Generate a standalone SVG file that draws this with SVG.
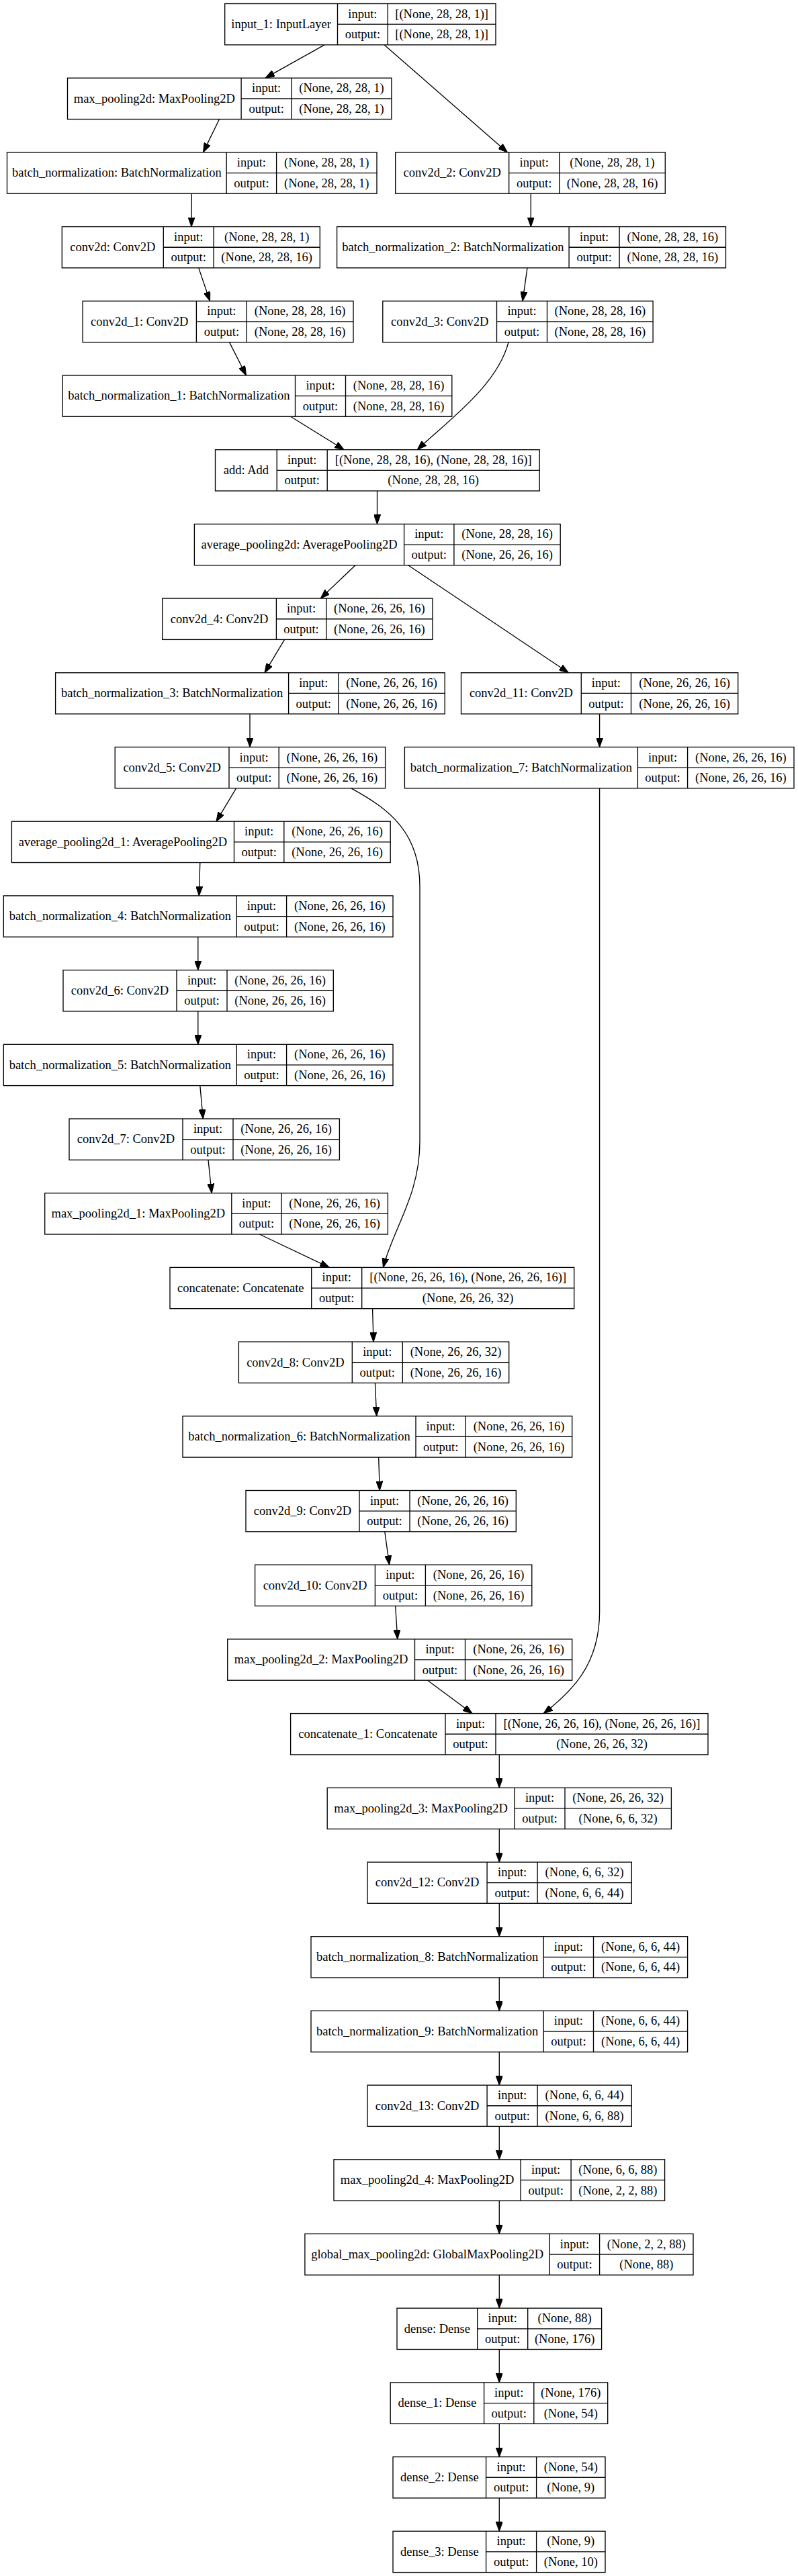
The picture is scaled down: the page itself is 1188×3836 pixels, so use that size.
<svg xmlns="http://www.w3.org/2000/svg" width="1188" height="3836" viewBox="0 0 1188 3836">
<style>
.node rect{fill:#fff;stroke:#000;stroke-width:1.33}
.node path{fill:none;stroke:#000;stroke-width:1.33}
.node text{font-family:"Liberation Serif","Times New Roman",serif;font-size:18.5px;text-anchor:middle;fill:#000}
#edges path{fill:none;stroke:#000;stroke-width:1.33;marker-end:url(#arrow)}
</style>
<defs>
<marker id="arrow" markerUnits="userSpaceOnUse" markerWidth="14" markerHeight="10" viewBox="0 0 13 9.4" refX="13" refY="4.7" orient="auto"><path d="M0,0 L13,4.7 L0,9.4 z" fill="#000" stroke="#000" stroke-width="1"/></marker>
</defs>
<rect x="0" y="0" width="1188" height="3836" fill="#fff"/>
<g id="edges">
<path d="M483,66.8 L395,116.2"/>
<path d="M572,66.8 L755.5,226.9"/>
<path d="M326.5,177.5 L302.5,226.9"/>
<path d="M285.3,288.2 L285,337.6"/>
<path d="M790.3,288.2 L790.3,337.6"/>
<path d="M295.7,398.9 L312.5,448.3"/>
<path d="M785,398.9 L778,448.3"/>
<path d="M341.5,509.6 L366.5,559"/>
<path d="M757,509.6 C740,575 665,628 621.3,669.7"/>
<path d="M432.6,620.3 L512.2,669.7"/>
<path d="M561.5,731 L561.5,780.4"/>
<path d="M529,841.7 L477.3,891.1"/>
<path d="M607.7,841.7 L846.4,1001.8"/>
<path d="M423.6,952.4 L394,1001.8"/>
<path d="M372,1063.1 L372,1112.5"/>
<path d="M892.6,1063.1 L892.6,1112.5"/>
<path d="M351.6,1173.8 L322,1223.2"/>
<path d="M297.8,1284.5 L296.3,1333.9"/>
<path d="M294.8,1395.2 L294.8,1444.6"/>
<path d="M294.8,1505.9 L294.8,1555.3"/>
<path d="M297.8,1616.6 L302.3,1666"/>
<path d="M310,1727.3 L315.2,1776.7"/>
<path d="M386.4,1838 L490.2,1887.4"/>
<path d="M522.8,1173.8 C580,1205 625,1240 625,1320 L625,1700 C625,1780 585,1830 570.5,1887.4"/>
<path d="M554.6,1948.7 L556,1998.1"/>
<path d="M558.4,2059.4 L560.7,2108.8"/>
<path d="M563.7,2170.1 L565.2,2219.5"/>
<path d="M572.8,2280.8 L579.6,2330.2"/>
<path d="M588.7,2391.5 L591.8,2440.9"/>
<path d="M636.5,2502.2 L703,2551.6"/>
<path d="M892.6,1173.8 L892.6,2400 C892.6,2480 850,2520 809.2,2551.6"/>
<path d="M743.3,2612.9 L743.3,2662.3"/>
<path d="M743.3,2723.6 L743.3,2773"/>
<path d="M743.3,2834.3 L743.3,2883.7"/>
<path d="M743.3,2945 L743.3,2994.4"/>
<path d="M743.3,3055.7 L743.3,3105.1"/>
<path d="M743.3,3166.4 L743.3,3215.8"/>
<path d="M743.3,3277.1 L743.3,3326.5"/>
<path d="M743.3,3387.8 L743.3,3437.2"/>
<path d="M743.3,3498.5 L743.3,3547.9"/>
<path d="M743.3,3609.2 L743.3,3658.6"/>
<path d="M743.3,3719.9 L743.3,3769.3"/>
</g>

<g id="input_1" class="node" transform="translate(0,5.5)"><rect x="334.7" y="0" width="403.3" height="61.3"/><path d="M502.5,0V61.3M577.3,0V61.3M502.5,30.65H738"/><text x="418.6" y="36.45">input_1: InputLayer</text><text x="539.9" y="21.1">input:</text><text x="539.9" y="51.8">output:</text><text x="657.65" y="21.1">[(None, 28, 28, 1)]</text><text x="657.65" y="51.8">[(None, 28, 28, 1)]</text></g>

<g id="max_pooling2d" class="node" transform="translate(0,116.2)"><rect x="100.5" y="0" width="482.4" height="61.3"/><path d="M359.1,0V61.3M434.2,0V61.3M359.1,30.65H582.9"/><text x="229.8" y="36.45">max_pooling2d: MaxPooling2D</text><text x="396.65" y="21.1">input:</text><text x="396.65" y="51.8">output:</text><text x="508.55" y="21.1">(None, 28, 28, 1)</text><text x="508.55" y="51.8">(None, 28, 28, 1)</text></g>

<g id="batch_normalization" class="node" transform="translate(0,226.9)"><rect x="10.5" y="0" width="550.5" height="61.3"/><path d="M337.2,0V61.3M411.6,0V61.3M337.2,30.65H561"/><text x="173.85" y="36.45">batch_normalization: BatchNormalization</text><text x="374.4" y="21.1">input:</text><text x="374.4" y="51.8">output:</text><text x="486.3" y="21.1">(None, 28, 28, 1)</text><text x="486.3" y="51.8">(None, 28, 28, 1)</text></g>

<g id="conv2d_2" class="node" transform="translate(0,226.9)"><rect x="588.7" y="0" width="401.6" height="61.3"/><path d="M757.7,0V61.3M832.7,0V61.3M757.7,30.65H990.3"/><text x="673.2" y="36.45">conv2d_2: Conv2D</text><text x="795.2" y="21.1">input:</text><text x="795.2" y="51.8">output:</text><text x="911.5" y="21.1">(None, 28, 28, 1)</text><text x="911.5" y="51.8">(None, 28, 28, 16)</text></g>

<g id="conv2d" class="node" transform="translate(0,337.6)"><rect x="92.3" y="0" width="384" height="61.3"/><path d="M243.3,0V61.3M318.1,0V61.3M243.3,30.65H476.3"/><text x="167.8" y="36.45">conv2d: Conv2D</text><text x="280.7" y="21.1">input:</text><text x="280.7" y="51.8">output:</text><text x="397.2" y="21.1">(None, 28, 28, 1)</text><text x="397.2" y="51.8">(None, 28, 28, 16)</text></g>

<g id="batch_normalization_2" class="node" transform="translate(0,337.6)"><rect x="501.6" y="0" width="578.9" height="61.3"/><path d="M847.1,0V61.3M922.1,0V61.3M847.1,30.65H1080.5"/><text x="674.35" y="36.45">batch_normalization_2: BatchNormalization</text><text x="884.6" y="21.1">input:</text><text x="884.6" y="51.8">output:</text><text x="1001.3" y="21.1">(None, 28, 28, 16)</text><text x="1001.3" y="51.8">(None, 28, 28, 16)</text></g>

<g id="conv2d_1" class="node" transform="translate(0,448.3)"><rect x="123.1" y="0" width="402.9" height="61.3"/><path d="M292.4,0V61.3M367.3,0V61.3M292.4,30.65H526"/><text x="207.75" y="36.45">conv2d_1: Conv2D</text><text x="329.85" y="21.1">input:</text><text x="329.85" y="51.8">output:</text><text x="446.65" y="21.1">(None, 28, 28, 16)</text><text x="446.65" y="51.8">(None, 28, 28, 16)</text></g>

<g id="conv2d_3" class="node" transform="translate(0,448.3)"><rect x="569.8" y="0" width="402.3" height="61.3"/><path d="M739.5,0V61.3M814.5,0V61.3M739.5,30.65H972.1"/><text x="654.65" y="36.45">conv2d_3: Conv2D</text><text x="777" y="21.1">input:</text><text x="777" y="51.8">output:</text><text x="893.3" y="21.1">(None, 28, 28, 16)</text><text x="893.3" y="51.8">(None, 28, 28, 16)</text></g>

<g id="batch_normalization_1" class="node" transform="translate(0,559)"><rect x="93.2" y="0" width="579.6" height="61.3"/><path d="M439.5,0V61.3M514.5,0V61.3M439.5,30.65H672.8"/><text x="266.35" y="36.45">batch_normalization_1: BatchNormalization</text><text x="477" y="21.1">input:</text><text x="477" y="51.8">output:</text><text x="593.65" y="21.1">(None, 28, 28, 16)</text><text x="593.65" y="51.8">(None, 28, 28, 16)</text></g>

<g id="add" class="node" transform="translate(0,669.7)"><rect x="320.5" y="0" width="482.7" height="61.3"/><path d="M412.2,0V61.3M487.2,0V61.3M412.2,30.65H803.2"/><text x="366.35" y="36.45">add: Add</text><text x="449.7" y="21.1">input:</text><text x="449.7" y="51.8">output:</text><text x="645.2" y="21.1">[(None, 28, 28, 16), (None, 28, 28, 16)]</text><text x="645.2" y="51.8">(None, 28, 28, 16)</text></g>

<g id="average_pooling2d" class="node" transform="translate(0,780.4)"><rect x="289.4" y="0" width="544.8" height="61.3"/><path d="M601.6,0V61.3M675.9,0V61.3M601.6,30.65H834.2"/><text x="445.5" y="36.45">average_pooling2d: AveragePooling2D</text><text x="638.75" y="21.1">input:</text><text x="638.75" y="51.8">output:</text><text x="755.05" y="21.1">(None, 28, 28, 16)</text><text x="755.05" y="51.8">(None, 26, 26, 16)</text></g>

<g id="conv2d_4" class="node" transform="translate(0,891.1)"><rect x="241.7" y="0" width="402.3" height="61.3"/><path d="M411.4,0V61.3M485.7,0V61.3M411.4,30.65H644"/><text x="326.55" y="36.45">conv2d_4: Conv2D</text><text x="448.55" y="21.1">input:</text><text x="448.55" y="51.8">output:</text><text x="564.85" y="21.1">(None, 26, 26, 16)</text><text x="564.85" y="51.8">(None, 26, 26, 16)</text></g>

<g id="batch_normalization_3" class="node" transform="translate(0,1001.8)"><rect x="82.6" y="0" width="579.6" height="61.3"/><path d="M429.6,0V61.3M503.9,0V61.3M429.6,30.65H662.2"/><text x="256.1" y="36.45">batch_normalization_3: BatchNormalization</text><text x="466.75" y="21.1">input:</text><text x="466.75" y="51.8">output:</text><text x="583.05" y="21.1">(None, 26, 26, 16)</text><text x="583.05" y="51.8">(None, 26, 26, 16)</text></g>

<g id="conv2d_11" class="node" transform="translate(0,1001.8)"><rect x="686.5" y="0" width="412.2" height="61.3"/><path d="M865.3,0V61.3M939.5,0V61.3M865.3,30.65H1098.7"/><text x="775.9" y="36.45">conv2d_11: Conv2D</text><text x="902.4" y="21.1">input:</text><text x="902.4" y="51.8">output:</text><text x="1019.1" y="21.1">(None, 26, 26, 16)</text><text x="1019.1" y="51.8">(None, 26, 26, 16)</text></g>

<g id="conv2d_5" class="node" transform="translate(0,1112.5)"><rect x="171.2" y="0" width="402.4" height="61.3"/><path d="M341,0V61.3M415.2,0V61.3M341,30.65H573.6"/><text x="256.1" y="36.45">conv2d_5: Conv2D</text><text x="378.1" y="21.1">input:</text><text x="378.1" y="51.8">output:</text><text x="494.4" y="21.1">(None, 26, 26, 16)</text><text x="494.4" y="51.8">(None, 26, 26, 16)</text></g>

<g id="batch_normalization_7" class="node" transform="translate(0,1112.5)"><rect x="602.4" y="0" width="579.6" height="61.3"/><path d="M949.4,0V61.3M1023.6,0V61.3M949.4,30.65H1182"/><text x="775.9" y="36.45">batch_normalization_7: BatchNormalization</text><text x="986.5" y="21.1">input:</text><text x="986.5" y="51.8">output:</text><text x="1102.8" y="21.1">(None, 26, 26, 16)</text><text x="1102.8" y="51.8">(None, 26, 26, 16)</text></g>

<g id="average_pooling2d_1" class="node" transform="translate(0,1223.2)"><rect x="17.4" y="0" width="563.8" height="61.3"/><path d="M348.5,0V61.3M422.8,0V61.3M348.5,30.65H581.2"/><text x="182.95" y="36.45">average_pooling2d_1: AveragePooling2D</text><text x="385.65" y="21.1">input:</text><text x="385.65" y="51.8">output:</text><text x="502" y="21.1">(None, 26, 26, 16)</text><text x="502" y="51.8">(None, 26, 26, 16)</text></g>

<g id="batch_normalization_4" class="node" transform="translate(0,1333.9)"><rect x="5.3" y="0" width="579.7" height="61.3"/><path d="M352.3,0V61.3M426.6,0V61.3M352.3,30.65H585"/><text x="178.8" y="36.45">batch_normalization_4: BatchNormalization</text><text x="389.45" y="21.1">input:</text><text x="389.45" y="51.8">output:</text><text x="505.8" y="21.1">(None, 26, 26, 16)</text><text x="505.8" y="51.8">(None, 26, 26, 16)</text></g>

<g id="conv2d_6" class="node" transform="translate(0,1444.6)"><rect x="94" y="0" width="402.3" height="61.3"/><path d="M263,0V61.3M338,0V61.3M263,30.65H496.3"/><text x="178.5" y="36.45">conv2d_6: Conv2D</text><text x="300.5" y="21.1">input:</text><text x="300.5" y="51.8">output:</text><text x="417.15" y="21.1">(None, 26, 26, 16)</text><text x="417.15" y="51.8">(None, 26, 26, 16)</text></g>

<g id="batch_normalization_5" class="node" transform="translate(0,1555.3)"><rect x="5.3" y="0" width="579.7" height="61.3"/><path d="M352.3,0V61.3M426.6,0V61.3M352.3,30.65H585"/><text x="178.8" y="36.45">batch_normalization_5: BatchNormalization</text><text x="389.45" y="21.1">input:</text><text x="389.45" y="51.8">output:</text><text x="505.8" y="21.1">(None, 26, 26, 16)</text><text x="505.8" y="51.8">(None, 26, 26, 16)</text></g>

<g id="conv2d_7" class="node" transform="translate(0,1666)"><rect x="103" y="0" width="402.4" height="61.3"/><path d="M272,0V61.3M347,0V61.3M272,30.65H505.4"/><text x="187.5" y="36.45">conv2d_7: Conv2D</text><text x="309.5" y="21.1">input:</text><text x="309.5" y="51.8">output:</text><text x="426.2" y="21.1">(None, 26, 26, 16)</text><text x="426.2" y="51.8">(None, 26, 26, 16)</text></g>

<g id="max_pooling2d_1" class="node" transform="translate(0,1776.7)"><rect x="66.7" y="0" width="510.7" height="61.3"/><path d="M344.8,0V61.3M419,0V61.3M344.8,30.65H577.4"/><text x="205.75" y="36.45">max_pooling2d_1: MaxPooling2D</text><text x="381.9" y="21.1">input:</text><text x="381.9" y="51.8">output:</text><text x="498.2" y="21.1">(None, 26, 26, 16)</text><text x="498.2" y="51.8">(None, 26, 26, 16)</text></g>

<g id="concatenate" class="node" transform="translate(0,1887.4)"><rect x="253" y="0" width="601.7" height="61.3"/><path d="M463.7,0V61.3M538.7,0V61.3M463.7,30.65H854.7"/><text x="358.35" y="36.45">concatenate: Concatenate</text><text x="501.2" y="21.1">input:</text><text x="501.2" y="51.8">output:</text><text x="696.7" y="21.1">[(None, 26, 26, 16), (None, 26, 26, 16)]</text><text x="696.7" y="51.8">(None, 26, 26, 32)</text></g>

<g id="conv2d_8" class="node" transform="translate(0,1998.1)"><rect x="355.4" y="0" width="402.3" height="61.3"/><path d="M524.3,0V61.3M599.3,0V61.3M524.3,30.65H757.7"/><text x="439.85" y="36.45">conv2d_8: Conv2D</text><text x="561.8" y="21.1">input:</text><text x="561.8" y="51.8">output:</text><text x="678.5" y="21.1">(None, 26, 26, 32)</text><text x="678.5" y="51.8">(None, 26, 26, 16)</text></g>

<g id="batch_normalization_6" class="node" transform="translate(0,2108.8)"><rect x="272" y="0" width="579.7" height="61.3"/><path d="M619,0V61.3M693.3,0V61.3M619,30.65H851.7"/><text x="445.5" y="36.45">batch_normalization_6: BatchNormalization</text><text x="656.15" y="21.1">input:</text><text x="656.15" y="51.8">output:</text><text x="772.5" y="21.1">(None, 26, 26, 16)</text><text x="772.5" y="51.8">(None, 26, 26, 16)</text></g>

<g id="conv2d_9" class="node" transform="translate(0,2219.5)"><rect x="366" y="0" width="402.3" height="61.3"/><path d="M535,0V61.3M610,0V61.3M535,30.65H768.3"/><text x="450.5" y="36.45">conv2d_9: Conv2D</text><text x="572.5" y="21.1">input:</text><text x="572.5" y="51.8">output:</text><text x="689.15" y="21.1">(None, 26, 26, 16)</text><text x="689.15" y="51.8">(None, 26, 26, 16)</text></g>

<g id="conv2d_10" class="node" transform="translate(0,2330.2)"><rect x="379.6" y="0" width="412.2" height="61.3"/><path d="M558.4,0V61.3M633.4,0V61.3M558.4,30.65H791.8"/><text x="469" y="36.45">conv2d_10: Conv2D</text><text x="595.9" y="21.1">input:</text><text x="595.9" y="51.8">output:</text><text x="712.6" y="21.1">(None, 26, 26, 16)</text><text x="712.6" y="51.8">(None, 26, 26, 16)</text></g>

<g id="max_pooling2d_2" class="node" transform="translate(0,2440.9)"><rect x="338.7" y="0" width="513" height="61.3"/><path d="M617.5,0V61.3M692.5,0V61.3M617.5,30.65H851.7"/><text x="478.1" y="36.45">max_pooling2d_2: MaxPooling2D</text><text x="655" y="21.1">input:</text><text x="655" y="51.8">output:</text><text x="772.1" y="21.1">(None, 26, 26, 16)</text><text x="772.1" y="51.8">(None, 26, 26, 16)</text></g>

<g id="concatenate_1" class="node" transform="translate(0,2551.6)"><rect x="432.6" y="0" width="621.4" height="61.3"/><path d="M663,0V61.3M738,0V61.3M663,30.65H1054"/><text x="547.8" y="36.45">concatenate_1: Concatenate</text><text x="700.5" y="21.1">input:</text><text x="700.5" y="51.8">output:</text><text x="896" y="21.1">[(None, 26, 26, 16), (None, 26, 26, 16)]</text><text x="896" y="51.8">(None, 26, 26, 32)</text></g>

<g id="max_pooling2d_3" class="node" transform="translate(0,2662.3)"><rect x="487.2" y="0" width="512.2" height="61.3"/><path d="M766,0V61.3M841,0V61.3M766,30.65H999.4"/><text x="626.6" y="36.45">max_pooling2d_3: MaxPooling2D</text><text x="803.5" y="21.1">input:</text><text x="803.5" y="51.8">output:</text><text x="920.2" y="21.1">(None, 26, 26, 32)</text><text x="920.2" y="51.8">(None, 6, 6, 32)</text></g>

<g id="conv2d_12" class="node" transform="translate(0,2773)"><rect x="547" y="0" width="393.3" height="61.3"/><path d="M725.1,0V61.3M800.1,0V61.3M725.1,30.65H940.3"/><text x="636.05" y="36.45">conv2d_12: Conv2D</text><text x="762.6" y="21.1">input:</text><text x="762.6" y="51.8">output:</text><text x="870.2" y="21.1">(None, 6, 6, 32)</text><text x="870.2" y="51.8">(None, 6, 6, 44)</text></g>

<g id="batch_normalization_8" class="node" transform="translate(0,2883.7)"><rect x="463" y="0" width="560.6" height="61.3"/><path d="M809.2,0V61.3M883.5,0V61.3M809.2,30.65H1023.6"/><text x="636.1" y="36.45">batch_normalization_8: BatchNormalization</text><text x="846.35" y="21.1">input:</text><text x="846.35" y="51.8">output:</text><text x="953.55" y="21.1">(None, 6, 6, 44)</text><text x="953.55" y="51.8">(None, 6, 6, 44)</text></g>

<g id="batch_normalization_9" class="node" transform="translate(0,2994.4)"><rect x="463" y="0" width="560.6" height="61.3"/><path d="M809.2,0V61.3M883.5,0V61.3M809.2,30.65H1023.6"/><text x="636.1" y="36.45">batch_normalization_9: BatchNormalization</text><text x="846.35" y="21.1">input:</text><text x="846.35" y="51.8">output:</text><text x="953.55" y="21.1">(None, 6, 6, 44)</text><text x="953.55" y="51.8">(None, 6, 6, 44)</text></g>

<g id="conv2d_13" class="node" transform="translate(0,3105.1)"><rect x="547" y="0" width="393.3" height="61.3"/><path d="M725.1,0V61.3M800.1,0V61.3M725.1,30.65H940.3"/><text x="636.05" y="36.45">conv2d_13: Conv2D</text><text x="762.6" y="21.1">input:</text><text x="762.6" y="51.8">output:</text><text x="870.2" y="21.1">(None, 6, 6, 44)</text><text x="870.2" y="51.8">(None, 6, 6, 88)</text></g>

<g id="max_pooling2d_4" class="node" transform="translate(0,3215.8)"><rect x="497" y="0" width="492.6" height="61.3"/><path d="M775.1,0V61.3M850.1,0V61.3M775.1,30.65H989.6"/><text x="636.05" y="36.45">max_pooling2d_4: MaxPooling2D</text><text x="812.6" y="21.1">input:</text><text x="812.6" y="51.8">output:</text><text x="919.85" y="21.1">(None, 6, 6, 88)</text><text x="919.85" y="51.8">(None, 2, 2, 88)</text></g>

<g id="global_max_pooling2d" class="node" transform="translate(0,3326.5)"><rect x="453.9" y="0" width="578.1" height="61.3"/><path d="M818.3,0V61.3M892.6,0V61.3M818.3,30.65H1032"/><text x="636.1" y="36.45">global_max_pooling2d: GlobalMaxPooling2D</text><text x="855.45" y="21.1">input:</text><text x="855.45" y="51.8">output:</text><text x="962.3" y="21.1">(None, 2, 2, 88)</text><text x="962.3" y="51.8">(None, 88)</text></g>

<g id="dense" class="node" transform="translate(0,3437.2)"><rect x="591" y="0" width="304.6" height="61.3"/><path d="M710.7,0V61.3M785.7,0V61.3M710.7,30.65H895.6"/><text x="650.85" y="36.45">dense: Dense</text><text x="748.2" y="21.1">input:</text><text x="748.2" y="51.8">output:</text><text x="840.65" y="21.1">(None, 88)</text><text x="840.65" y="51.8">(None, 176)</text></g>

<g id="dense_1" class="node" transform="translate(0,3547.9)"><rect x="581.2" y="0" width="323.5" height="61.3"/><path d="M720.6,0V61.3M794.8,0V61.3M720.6,30.65H904.7"/><text x="650.9" y="36.45">dense_1: Dense</text><text x="757.7" y="21.1">input:</text><text x="757.7" y="51.8">output:</text><text x="849.75" y="21.1">(None, 176)</text><text x="849.75" y="51.8">(None, 54)</text></g>

<g id="dense_2" class="node" transform="translate(0,3658.6)"><rect x="585" y="0" width="316" height="61.3"/><path d="M723.6,0V61.3M798.6,0V61.3M723.6,30.65H901"/><text x="654.3" y="36.45">dense_2: Dense</text><text x="761.1" y="21.1">input:</text><text x="761.1" y="51.8">output:</text><text x="849.8" y="21.1">(None, 54)</text><text x="849.8" y="51.8">(None, 9)</text></g>

<g id="dense_3" class="node" transform="translate(0,3769.3)"><rect x="585" y="0" width="316" height="61.3"/><path d="M723.6,0V61.3M798.6,0V61.3M723.6,30.65H901"/><text x="654.3" y="36.45">dense_3: Dense</text><text x="761.1" y="21.1">input:</text><text x="761.1" y="51.8">output:</text><text x="849.8" y="21.1">(None, 9)</text><text x="849.8" y="51.8">(None, 10)</text></g>
</svg>
